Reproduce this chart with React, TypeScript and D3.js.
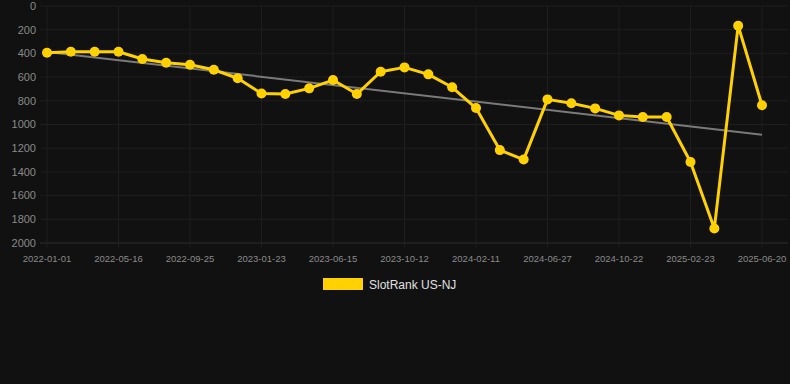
import React, { useEffect, useRef } from "react";
import * as d3 from "d3";

// one entry per data point; only every third date is shown on the axis
const dates = [
  "2022-01-01", "2022-02-15", "2022-03-31", "2022-05-16", "2022-06-30",
  "2022-08-12", "2022-09-25", "2022-11-05", "2022-12-15", "2023-01-23",
  "2023-03-08", "2023-04-30", "2023-06-15", "2023-07-25", "2023-09-01",
  "2023-10-12", "2023-11-20", "2023-12-30", "2024-02-11", "2024-03-28",
  "2024-05-12", "2024-06-27", "2024-08-10", "2024-09-15", "2024-10-22",
  "2024-12-05", "2025-01-12", "2025-02-23", "2025-04-05", "2025-05-12",
  "2025-06-20",
];

const rankValues = [
  394, 386, 386, 386, 447, 479, 496, 538, 610, 739,
  743, 695, 625, 743, 555, 518, 577, 686, 861, 1216,
  1296, 788, 821, 864, 923, 937, 937, 1317, 1877, 166,
  838,
];

const yTicks = [0, 200, 400, 600, 800, 1000, 1200, 1400, 1600, 1800, 2000];
const seriesName = "SlotRank US-NJ";

const App = () => {
  const svgRef = useRef<SVGSVGElement | null>(null);

  useEffect(() => {
    const width = 790;
    const height = 384;
    const svg = d3.select(svgRef.current);
    svg.selectAll("*").remove();

    const plotLeft = 40;
    const plotRight = 788;

    const x = d3.scalePoint<string>().domain(dates).range([47, 762]);
    const y = d3.scaleLinear().domain([0, 2000]).range([6, 243]);

    svg
      .append("rect")
      .attr("width", width)
      .attr("height", height)
      .attr("fill", "#111111");

    // horizontal grid
    svg
      .append("g")
      .selectAll("line")
      .data(yTicks)
      .join("line")
      .attr("x1", plotLeft)
      .attr("x2", plotRight)
      .attr("y1", (d) => y(d))
      .attr("y2", (d) => y(d))
      .attr("stroke", (d) => (d === 2000 ? "#2e2e2e" : "#1e1e1e"))
      .attr("stroke-width", 1);

    const shownDates = dates.filter((_, i) => i % 3 === 0);

    // vertical grid at labelled dates
    svg
      .append("g")
      .selectAll("line")
      .data(shownDates)
      .join("line")
      .attr("x1", (d) => x(d)!)
      .attr("x2", (d) => x(d)!)
      .attr("y1", y(0))
      .attr("y2", y(2000) + 5)
      .attr("stroke", "#1e1e1e");

    // y labels
    svg
      .append("g")
      .selectAll("text")
      .data(yTicks)
      .join("text")
      .attr("x", 36)
      .attr("y", (d) => y(d))
      .attr("dy", "0.35em")
      .attr("text-anchor", "end")
      .attr("fill", "#8a8a8a")
      .style("font-family", "Arial, 'Liberation Sans', sans-serif")
      .style("font-size", "11px")
      .text((d) => d);

    // x labels
    svg
      .append("g")
      .selectAll("text")
      .data(shownDates)
      .join("text")
      .attr("x", (d) => x(d)!)
      .attr("y", 262)
      .attr("text-anchor", "middle")
      .attr("fill", "#8a8a8a")
      .style("font-family", "Arial, 'Liberation Sans', sans-serif")
      .style("font-size", "9.5px")
      .text((d) => d);

    // linear trend over the points
    const idx = rankValues.map((_, i) => i);
    const mx = d3.mean(idx)!;
    const my = d3.mean(rankValues)!;
    const slope =
      d3.sum(idx, (i) => (i - mx) * (rankValues[i] - my)) /
      d3.sum(idx, (i) => (i - mx) ** 2);
    const trendAt = (i: number) => my + slope * (i - mx);
    const last = dates.length - 1;

    svg
      .append("line")
      .attr("x1", x(dates[0])!)
      .attr("y1", y(trendAt(0)))
      .attr("x2", x(dates[last])!)
      .attr("y2", y(trendAt(last)))
      .attr("stroke", "#7a7a7a")
      .attr("stroke-width", 2);

    const line = d3
      .line<number>()
      .x((_, i) => x(dates[i])!)
      .y((d) => y(d));

    svg
      .append("path")
      .datum(rankValues)
      .attr("d", line)
      .attr("fill", "none")
      .attr("stroke", "#FFD100")
      .attr("stroke-width", 3)
      .attr("stroke-linejoin", "round");

    svg
      .append("g")
      .selectAll("circle")
      .data(rankValues)
      .join("circle")
      .attr("cx", (_, i) => x(dates[i])!)
      .attr("cy", (d) => y(d))
      .attr("r", 5)
      .attr("fill", "#FFD100");

    // legend
    svg
      .append("rect")
      .attr("x", 323)
      .attr("y", 278)
      .attr("width", 40)
      .attr("height", 12)
      .attr("fill", "#FFD100");

    svg
      .append("text")
      .attr("x", 369)
      .attr("y", 288.5)
      .attr("fill", "#e0e0e0")
      .style("font-family", "Arial, 'Liberation Sans', sans-serif")
      .style("font-size", "12px")
      .text(seriesName);
  }, []);

  return (
    <div style={{ position: "absolute", left: 0, top: 0 }}>
      <svg ref={svgRef} width={790} height={384} style={{ display: "block" }} />
    </div>
  );
};

export default App;
